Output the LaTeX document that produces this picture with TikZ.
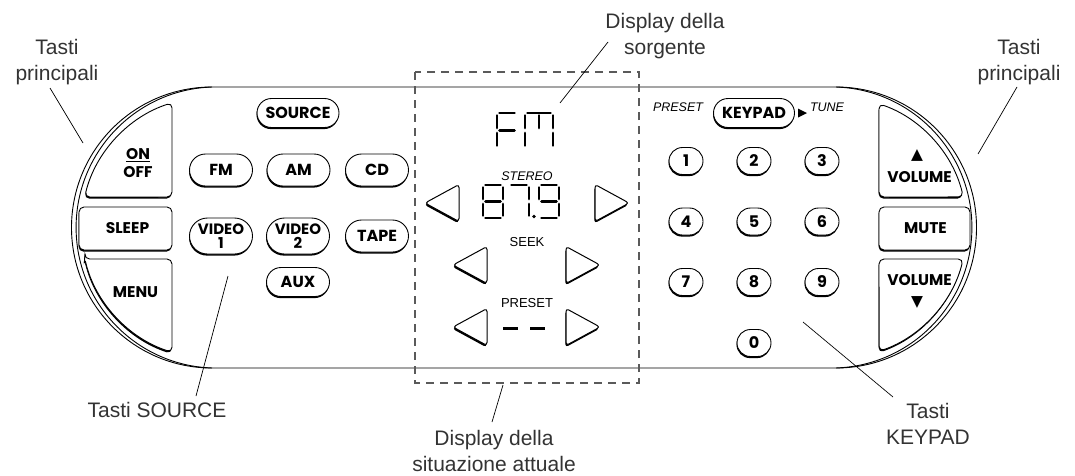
\documentclass[tikz,border=0pt]{standalone}
\usepackage{fontspec}
\setmainfont{Liberation Sans}
\newfontfamily\btnfont{Poppins}
\newfontfamily\symfont{DejaVu Sans}
\usetikzlibrary{shadows,shapes.misc}

\definecolor{lblgray}{HTML}{333333}
\definecolor{dashgray}{HTML}{5A5A5A}

\def\bodyr{140.5}
\def\keyr{131}
\tikzset{
   body/.style={draw=black, line width=0.9pt},
   callout/.style={draw=black, line width=0.7pt},
   lbl/.style={font=\fontsize{21}{26}\selectfont, text=lblgray, align=center, inner sep=0pt},
   btnshadow/.style={drop shadow={shadow xshift=-0.5pt, shadow yshift=-1.6pt, opacity=1, fill=black}},
   pill/.style={rounded rectangle, draw, fill=white, line width=0.9pt, minimum width=63pt, minimum height=32pt, inner sep=0pt, align=center, font=\btnfont\bfseries\fontsize{16}{12}\selectfont, btnshadow},
   numkey/.style={pill, minimum width=34pt, minimum height=27pt},
   panelkey/.style={draw, fill=white, line width=0.9pt, rounded corners=5pt, btnshadow},
   keytext/.style={inner sep=0pt, font=\btnfont\bfseries\fontsize{15.5}{15}\selectfont},
   arrowkey/.style={draw, fill=white, line width=1pt, rounded corners=3pt, line join=round, drop shadow={shadow xshift=-0.6pt, shadow yshift=-1.8pt, opacity=1, fill=black}},
   seg/.style={line width=2.9pt, line cap=round},
   lcdtext/.style={inner sep=0pt, font=\fontsize{13}{13}\selectfont},
   lcdital/.style={inner sep=0pt, font=\itshape\fontsize{12.5}{13}\selectfont}
}

% seven segment digit: x, y, width, height, list of segments
% 0 top, 1 upper right, 2 lower right, 3 bottom, 4 lower left, 5 upper left, 6 middle, 7 centre stroke
\newcommand\lcddigit[5]{%
  \foreach \s in {#5} {
    \ifcase\s
      \draw[seg] (#1+2.5,#2) -- (#1+#3-2.5,#2);
    \or \draw[seg] (#1+#3,#2+2.5) -- (#1+#3,#2+#4/2-2.5);
    \or \draw[seg] (#1+#3,#2+#4/2+2.5) -- (#1+#3,#2+#4-2.5);
    \or \draw[seg] (#1+2.5,#2+#4) -- (#1+#3-2.5,#2+#4);
    \or \draw[seg] (#1,#2+#4/2+2.5) -- (#1,#2+#4-2.5);
    \or \draw[seg] (#1,#2+2.5) -- (#1,#2+#4/2-2.5);
    \or \draw[seg] (#1+2.5,#2+#4/2) -- (#1+#3-2.5,#2+#4/2);
    \or \draw[seg] (#1+#3/2,#2+2.5) -- (#1+#3/2,#2+#4/2-2.5);
    \fi
  }%
}

\begin{document}
\begin{tikzpicture}[x=1pt, y=-1pt]
\useasboundingbox (0,0) rectangle (1075,475);

% outline of the remote
\draw[body] (212,87) -- (836,87) arc (-90:90:\bodyr) -- (212,368) arc (90:270:\bodyr) -- cycle;
\draw[body] (212,87) arc (268.1:91.9:140.57);
\draw[body] (836,87) arc (-88.1:88.1:140.57);

% main keys, left
\draw[panelkey] (172,102.8) arc (252.2:193.5:\keyr) -- (172,197) -- cycle;
\draw[panelkey] (79,207) rectangle (172,250);
\draw[panelkey] (84.6,259) -- (172,259) -- (172,352.2) arc (107.8:166.5:\keyr) -- cycle;
\node[keytext] (on) at (138,154) {ON};
\node[keytext] (off) at (138,172) {OFF};
\draw[line width=1.3pt] ([yshift=-2pt]on.south west) -- ([yshift=-2pt]on.south east);
\node[keytext] (sleep) at (127.5,228) {SLEEP};
\node[keytext] (menu) at (135.5,292) {MENU};

% main keys, right
\draw[panelkey] (879,103.8) arc (-70.8:-13.5:\keyr) -- (879,197) -- cycle;
\draw[panelkey] (879,207) rectangle (970,250);
\draw[panelkey] (879,259) -- (963.2,259) arc (13.9:70.8:\keyr) -- cycle;
\node[keytext] (volupsym) at (917,155) {\symfont ▲};
\node[keytext] (volup) at (919.5,177) {VOLUME};
\node[keytext] (mute) at (925.5,228) {MUTE};
\node[keytext] (voldn) at (919.5,280) {VOLUME};
\node[keytext] (voldnsym) at (917,302) {\symfont ▼};

% source keys
\node[pill, minimum width=82pt, minimum height=29pt] (source) at (298,113) {SOURCE};
\foreach \name/\cx/\cy/\txt in {fm/221/170/FM, am/298.5/170/AM, cd/377/170/CD,
    tape/377/236/TAPE} {
    \node[pill] (\name) at (\cx,\cy) {\txt};
}
\foreach \n/\cx in {1/221, 2/298} {
    \node[pill, minimum height=36pt, font=\btnfont\bfseries\fontsize{15}{11}\selectfont] (video\n) at (\cx,236) {VIDEO\\[2pt]\n};
}
\node[pill, minimum height=29pt] (aux) at (298,282) {AUX};

% display area
\draw[dashgray, line width=1.2pt, dash pattern=on 8pt off 6pt] (415,72) rectangle (639,383);
\lcddigit{497}{113}{20}{35}{0,4,5,6}
\lcddigit{525}{113}{28}{35}{0,1,2,4,5,7}
\node[lcdital] (stereo) at (527,176) {STEREO};
\lcddigit{483}{185}{20}{33}{0,...,6}
\lcddigit{509}{185}{20}{33}{0,1,2}
\fill (534,216.5) circle (1.9);
\lcddigit{539}{185}{20}{33}{0,1,2,3,5,6}
\node[lcdtext] (seek) at (527,242) {SEEK};
\node[lcdtext] (preset) at (527,303) {PRESET};
\draw[line width=3pt] (503,328) -- (518,328);
\draw[line width=3pt] (530,328) -- (545,328);
\foreach \tx/\ty in {425/203, 453/265, 453/327} {
    \draw[arrowkey] (\tx,\ty) -- ++(34,-18.5) -- ++(0,37) -- cycle;
}
\foreach \tx/\ty in {629/203, 600/265, 600/327} {
    \draw[arrowkey] (\tx,\ty) -- ++(-34,-18.5) -- ++(0,37) -- cycle;
}

% keypad
\node[lcdital] (kpreset) at (678,107) {PRESET};
\node[pill, minimum width=81pt, minimum height=29pt] (keypad) at (754,113) {KEYPAD};
\fill (798,108.5) -- (807,113) -- (798,117.5) -- cycle;
\node[lcdital] (tune) at (827,107) {TUNE};
\foreach \r in {0,1,2} {
    \foreach \c in {0,1,2} {
        \pgfmathtruncatemacro{\num}{3*\r+\c+1}
        \node[numkey] (key\num) at (686+68*\c, 161+60.5*\r) {\num};
    }
}
\node[numkey] (key0) at (754,343) {0};

% callouts
\node[lbl] (prinL) at (57,62) {Tasti\\principali};
\node[lbl] (prinR) at (1019,62) {Tasti\\principali};
\node[lbl] (srcdisp) at (665,36) {Display della\\sorgente};
\node[lbl] (srclbl) at (157,410) {Tasti SOURCE};
\node[lbl] (statdisp) at (494,451) {Display della\\situazione attuale};
\node[lbl] (keylbl) at (928,424) {Tasti\\KEYPAD};
\coordinate (prinLa) at (50,88);   \coordinate (prinLb) at (83,143);
\coordinate (prinRa) at (1017,87); \coordinate (prinRb) at (978,154);
\coordinate (srcdispa) at (608,42); \coordinate (srcdispb) at (560,103);
\coordinate (srclbla) at (196,396); \coordinate (srclblb) at (228,276);
\coordinate (statdispa) at (492,422); \coordinate (statdispb) at (503,385);
\coordinate (keylbla) at (893,397); \coordinate (keylblb) at (803,322);
\draw[callout] (prinLa) -- (prinLb);
\draw[callout] (prinRa) -- (prinRb);
\draw[callout] (srcdispa) -- (srcdispb);
\draw[callout] (srclbla) -- (srclblb);
\draw[callout] (statdispa) -- (statdispb);
\draw[callout] (keylbla) -- (keylblb);
\end{tikzpicture}
\end{document}
